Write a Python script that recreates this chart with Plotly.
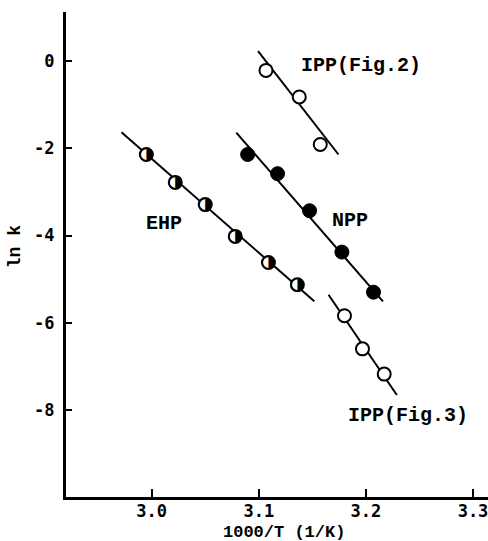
import plotly.graph_objects as go

# Arrhenius data: 1000/T (1/K) vs ln k
ehp_x = [2.995, 3.022, 3.050, 3.078, 3.109, 3.136]
ehp_y = [-2.14, -2.78, -3.29, -4.02, -4.62, -5.13]

npp_x = [3.0896, 3.1175, 3.1474, 3.1776, 3.2071]
npp_y = [-2.14, -2.58, -3.43, -4.38, -5.30]

ipp2_x = [3.1067, 3.1378, 3.1574]
ipp2_y = [-0.21, -0.82, -1.91]

ipp3_x = [3.180, 3.1968, 3.2171]
ipp3_y = [-5.84, -6.60, -7.18]

# fitted lines (end points)
ehp_fit_x = [2.9718, 3.1518]
ehp_fit_y = [-1.63, -5.51]
npp_fit_x = [3.079, 3.2159]
npp_fit_y = [-1.64, -5.51]
ipp2_fit_x = [3.0993, 3.1744]
ipp2_fit_y = [0.23, -2.14]
ipp3_fit_x = [3.1651, 3.2289]
ipp3_fit_y = [-5.36, -7.66]

x_ticks = [3.0, 3.1, 3.2, 3.3]
x_tick_text = ["3.0", "3.1", "3.2", "3.3"]
y_ticks = [0, -2, -4, -6, -8]
y_tick_text = ["0", "-2", "-4", "-6", "-8"]

labels = ["IPP(Fig.2)", "NPP", "EHP", "IPP(Fig.3)"]
label_x = [3.195, 3.185, 3.0118, 3.239]
label_y = [-0.09, -3.655, -3.717, -8.14]

fig = go.Figure()

line_style = dict(color="black", width=2)
for fx, fy in [(ehp_fit_x, ehp_fit_y), (npp_fit_x, npp_fit_y),
               (ipp2_fit_x, ipp2_fit_y), (ipp3_fit_x, ipp3_fit_y)]:
    fig.add_trace(go.Scatter(x=fx, y=fy, mode="lines", line=line_style,
                             showlegend=False, hoverinfo="skip"))

open_marker = dict(symbol="circle", size=13, color="white",
                   line=dict(color="black", width=2))
filled_marker = dict(symbol="circle", size=14, color="black",
                     line=dict(color="black", width=1))

# EHP: half-filled circles
fig.add_trace(go.Scatter(x=ehp_x, y=ehp_y, mode="markers", marker=open_marker,
                         showlegend=False))
fig.add_trace(go.Scatter(x=ehp_x, y=ehp_y, mode="text", text=["◑"] * len(ehp_x),
                         textposition="middle center",
                         textfont=dict(family="DejaVu Sans", size=17, color="black"),
                         showlegend=False))

fig.add_trace(go.Scatter(x=npp_x, y=npp_y, mode="markers", marker=filled_marker,
                         showlegend=False))
fig.add_trace(go.Scatter(x=ipp2_x, y=ipp2_y, mode="markers", marker=open_marker,
                         showlegend=False))
fig.add_trace(go.Scatter(x=ipp3_x, y=ipp3_y, mode="markers", marker=open_marker,
                         showlegend=False))

for t, lx, ly in zip(labels, label_x, label_y):
    fig.add_annotation(x=lx, y=ly, text="<b>%s</b>" % t, showarrow=False,
                       font=dict(family="Liberation Mono", size=20, color="black"))

# axis titles
fig.add_annotation(xref="paper", yref="paper", x=0.516, y=-0.073,
                   text="<b>1000/T (1/K)</b>", showarrow=False,
                   xanchor="center", yanchor="middle",
                   font=dict(family="Liberation Mono", size=17, color="black"))
fig.add_annotation(xref="paper", yref="paper", x=-0.121, y=0.517,
                   text="<b>ln k</b>", showarrow=False, textangle=-90,
                   xanchor="center", yanchor="middle",
                   font=dict(family="Liberation Mono", size=18, color="black"))

tick_font = dict(family="DejaVu Sans Mono", size=17, color="black")

fig.update_xaxes(range=[2.920, 3.314], showline=True, linewidth=3, linecolor="black",
                 showgrid=False, zeroline=False, ticks="inside", ticklen=8,
                 tickwidth=2, tickcolor="black", tickvals=x_ticks,
                 ticktext=["<b>%s</b>" % s for s in x_tick_text],
                 tickfont=tick_font, ticklabelstandoff=-3,
                 ticklabeloverflow="allow")
fig.update_yaxes(range=[-10.0, 1.13], showline=True, linewidth=3, linecolor="black",
                 showgrid=False, zeroline=False, ticks="inside", ticklen=6,
                 tickwidth=2, tickcolor="black", tickvals=y_ticks,
                 ticktext=["<b>%s</b>" % s for s in y_tick_text],
                 tickfont=tick_font, ticklabelstandoff=5,
                 ticklabeloverflow="allow")

fig.update_layout(width=488, height=541, margin=dict(l=66, r=0, t=12, b=44),
                  plot_bgcolor="white", paper_bgcolor="white", showlegend=False)

fig.write_html("out.html")
